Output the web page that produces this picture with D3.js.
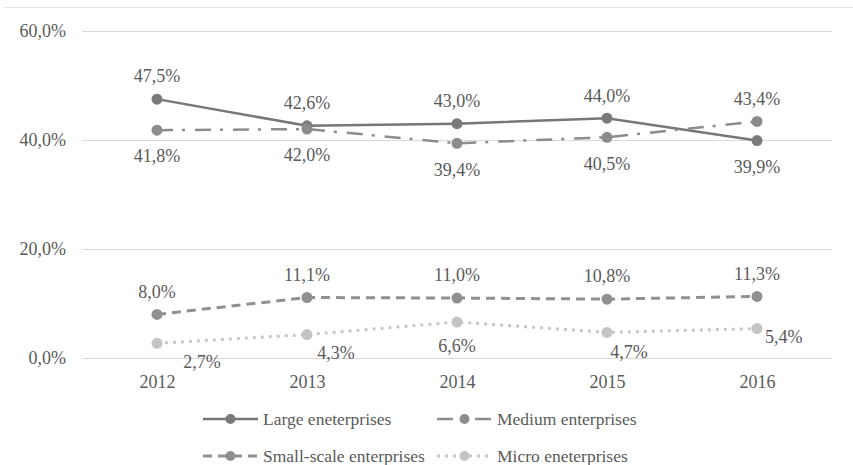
<!DOCTYPE html>
<html>
<head>
<meta charset="utf-8">
<script src="https://cdn.jsdelivr.net/npm/d3@7.9.0/dist/d3.min.js"></script>
<style>
  body { margin: 0; background: #fff; }
  svg, svg text { font-family: "Liberation Serif", "Times New Roman", Times, "DejaVu Serif", serif !important; }
</style>
</head>
<body>
<svg id="chart" width="853" height="465"></svg>
<script>
// data
const years = ['2012', '2013', '2014', '2015', '2016'];
const large = [47.5, 42.6, 43.0, 44.0, 39.9];
const medium = [41.8, 42.0, 39.4, 40.5, 43.4];
const small = [8.0, 11.1, 11.0, 10.8, 11.3];
const micro = [2.7, 4.3, 6.6, 4.7, 5.4];
const yTicks = [0, 20, 40, 60];

// where each value label sits relative to its point
const largePos = ['above', 'above', 'above', 'above', 'below'];
const mediumPos = ['below', 'below', 'below', 'below', 'above'];
const smallPos = ['above', 'above', 'above', 'above', 'above'];
const microPos = ['belowRightFar', 'belowRight', 'below', 'belowRightNear', 'right'];

const series = [
  { name: 'Large eneterprises', values: large, pos: largePos, color: '#777', dash: null, width: 2.5, dot: '#7a7a7a' },
  { name: 'Medium enterprises', values: medium, pos: mediumPos, color: '#8c8c8c', dash: '16,9,3,10', width: 2.5, dot: '#8c8c8c' },
  { name: 'Small-scale enterprises', values: small, pos: smallPos, color: '#909090', dash: '9,6', width: 3, dot: '#909090' },
  { name: 'Micro eneterprises', values: micro, pos: microPos, color: '#c8c8c8', dash: '3,5', width: 3, dot: '#c4c4c4' }
];

const svg = d3.select('#chart');
const fmt = v => d3.format('.1f')(v).replace('.', ',') + '%';
const textCol = '#5a5a5a';

const x = d3.scalePoint().domain(years).range([157, 757]);
const y = d3.scaleLinear().domain([0, 60]).range([358, 31]);

// faint frame line at the top
svg.append('line')
  .attr('x1', 4).attr('x2', 853).attr('y1', 7.5).attr('y2', 7.5)
  .attr('stroke', '#e2e2e2').attr('stroke-width', 1);

// gridlines + y labels
const yAxis = d3.axisLeft(y).tickValues(yTicks).tickSize(-750).tickFormat(fmt);
const gy = svg.append('g').attr('transform', 'translate(82,0)').call(yAxis);
gy.select('.domain').remove();
gy.selectAll('.tick line').attr('stroke', '#d9d9d9').attr('stroke-width', 1);
gy.selectAll('.tick text')
  .attr('x', -16)
  .attr('fill', textCol)
  .style('font-size', '18px');

// x labels
const xAxis = d3.axisBottom(x).tickSize(0).tickPadding(0);
const gx = svg.append('g').attr('transform', 'translate(0,382)').call(xAxis);
gx.select('.domain').remove();
gx.selectAll('.tick text')
  .attr('dy', '0.35em')
  .attr('fill', textCol)
  .style('font-size', '18px');

const line = d3.line().x((d, i) => x(years[i])).y(d => y(d));

const offsets = {
  above: [0, -23, 'middle'],
  below: [0, 24, 'middle'],
  belowRightFar: [45, 18, 'middle'],
  belowRight: [29, 18, 'middle'],
  belowRightNear: [22, 19, 'middle'],
  right: [8, 8, 'start']
};

series.forEach(s => {
  const g = svg.append('g');
  g.append('path')
    .attr('d', line(s.values))
    .attr('fill', 'none')
    .attr('stroke', s.color)
    .attr('stroke-width', s.width)
    .attr('stroke-dasharray', s.dash);
  g.selectAll('circle')
    .data(s.values)
    .join('circle')
    .attr('cx', (d, i) => x(years[i]))
    .attr('cy', d => y(d))
    .attr('r', 5.5)
    .attr('fill', s.dot);
});

// value labels drawn last so they sit on top
series.forEach(s => {
  svg.append('g').selectAll('text')
    .data(s.values)
    .join('text')
    .attr('x', (d, i) => x(years[i]) + offsets[s.pos[i]][0])
    .attr('y', (d, i) => y(d) + offsets[s.pos[i]][1] + (s.pos[i] === 'below' && s !== series[3] ? 2 : 0))
    .attr('dy', '0.35em')
    .attr('text-anchor', (d, i) => offsets[s.pos[i]][2])
    .attr('fill', textCol)
    .style('font-size', '18px')
    .text(d => fmt(d));
});

// legend
const legendCols = [203, 437];
const legendRows = [419, 456];
series.forEach((s, i) => {
  const lx = legendCols[i % 2];
  const ly = legendRows[Math.floor(i / 2)];
  const g = svg.append('g').attr('transform', `translate(${lx},${ly})`);
  g.append('line')
    .attr('x1', 0).attr('x2', 55).attr('y1', 0).attr('y2', 0)
    .attr('stroke', s.color)
    .attr('stroke-width', s.width)
    .attr('stroke-dasharray', s.dash);
  g.append('circle').attr('cx', 27.5).attr('cy', 0).attr('r', 5).attr('fill', s.dot);
  g.append('text')
    .attr('x', 60).attr('y', 0).attr('dy', '0.35em')
    .attr('fill', textCol)
    .style('font-size', '17.5px')
    .text(s.name);
});
</script>
</body>
</html>
